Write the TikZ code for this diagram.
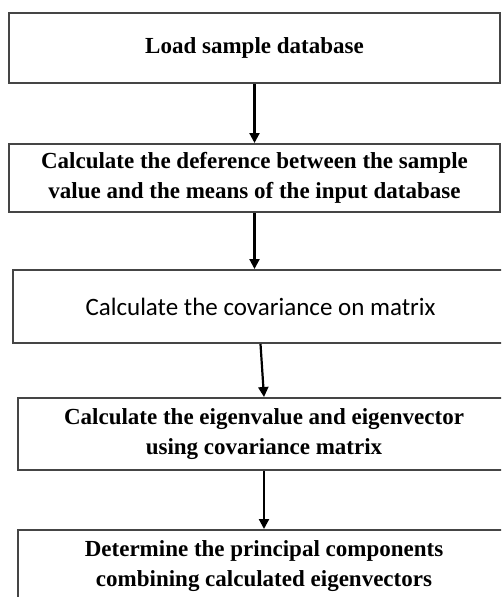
\documentclass[tikz,border=0pt]{standalone}
\usepackage{fontspec}
\setmainfont{Liberation Serif}
\newfontfamily\calfont{Carlito}
\usetikzlibrary{arrows.meta}
\definecolor{boxgray}{HTML}{454545}
\begin{document}
\begin{tikzpicture}[x=1pt,y=-1pt,
  box/.style={draw=boxgray, line width=2pt, fill=white, align=center, inner sep=0pt,
    font=\fontsize{23}{30}\bfseries\selectfont},
  arr/.style={line width=2.2pt, -{Triangle[length=10pt,width=10pt]}}]
\clip (0,0) rectangle (501,597);
\fill[white] (0,0) rectangle (501,597);
\node[box, minimum width=491pt, minimum height=70pt] (b1) at (254.5,48) {Load sample database};
\node[box, minimum width=491pt, minimum height=68pt] (b2) at (254.5,178)
  {Calculate the deference between the sample\\value and the means of the input database};
\node[box, minimum width=495pt, minimum height=73pt, font=\fontsize{25}{30}\calfont] (b3) at (260.5,306.5)
  {Calculate the covariance on matrix};
\node[box, minimum width=492pt, minimum height=72pt] (b4) at (264,434)
  {Calculate the eigenvalue and eigenvector\\using covariance matrix};
\node[box, minimum width=492pt, minimum height=72pt] (b5) at (264,566)
  {Determine the principal components\\combining calculated eigenvectors};
\draw[arr] (b1.south) -- (b2.north);
\draw[arr] (b2.south) -- (b3.north -| b2.south);
\draw[arr] (b3.south) -- (b4.north);
\draw[arr] (b4.south) -- (b5.north);
\end{tikzpicture}
\end{document}
